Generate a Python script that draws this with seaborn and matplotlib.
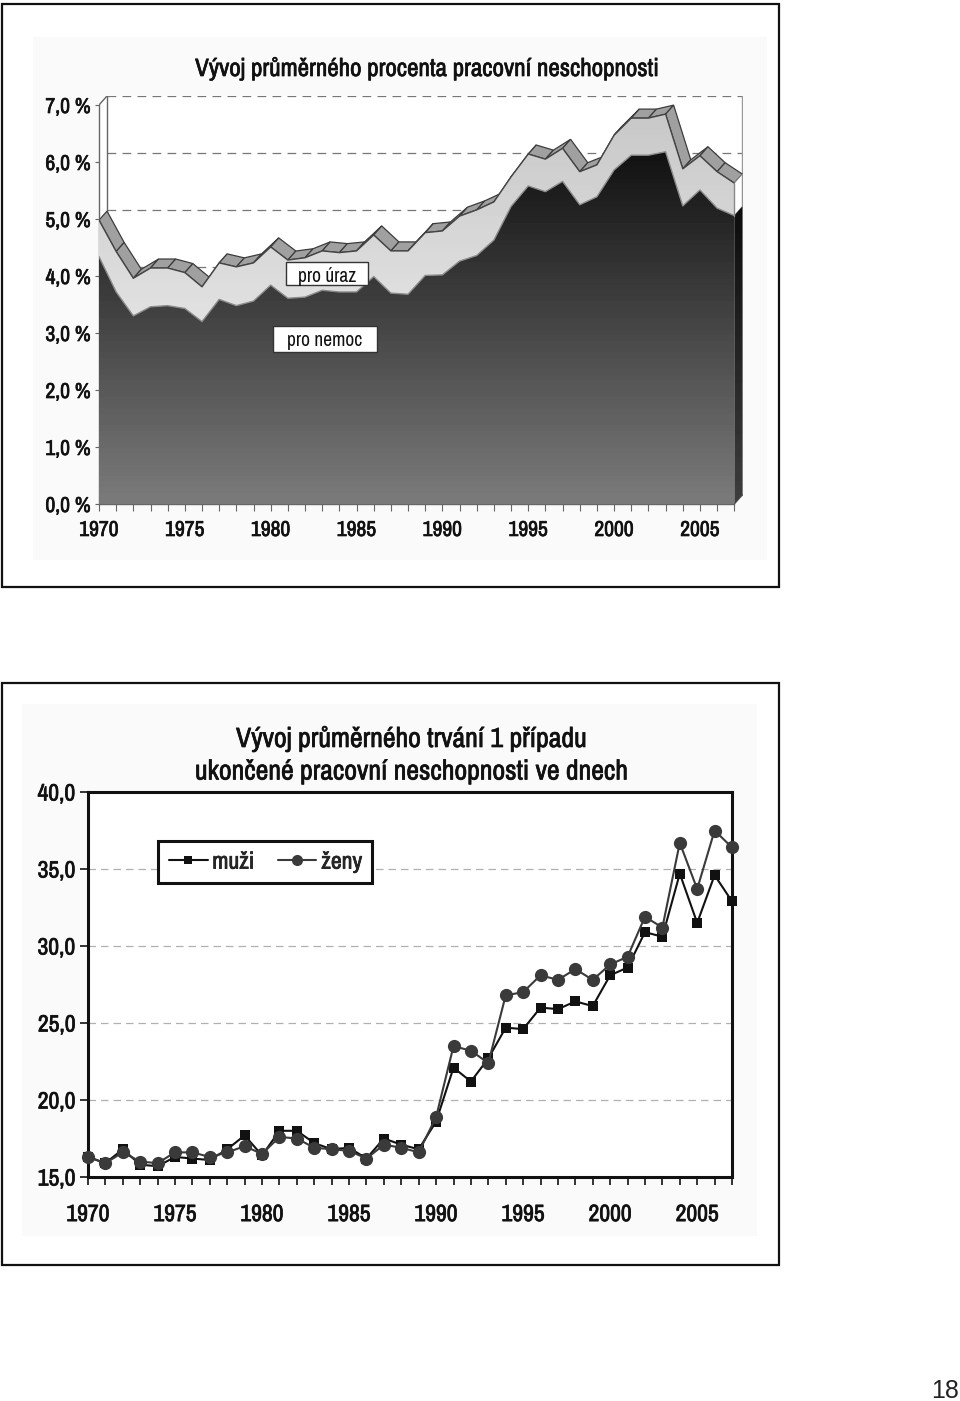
import numpy as np
import pandas as pd
import seaborn as sns
import matplotlib
matplotlib.use('Agg')
import matplotlib.pyplot as plt
import matplotlib.patheffects as pe
from matplotlib.patches import Rectangle, Polygon

# data
years = list(range(1970, 2008))
nemoc = [4.34, 3.72, 3.30, 3.46, 3.48, 3.43, 3.20, 3.59, 3.48, 3.56,
         3.84, 3.61, 3.63, 3.75, 3.72, 3.72, 3.99, 3.70, 3.68, 4.01,
         4.02, 4.26, 4.36, 4.63, 5.22, 5.58, 5.48, 5.66, 5.25, 5.39,
         5.86, 6.12, 6.12, 6.18, 5.23, 5.51, 5.19, 5.06]
uraz = [0.64, 0.71, 0.66, 0.68, 0.66, 0.63, 0.61, 0.64, 0.68, 0.67,
        0.67, 0.67, 0.69, 0.69, 0.69, 0.72, 0.73, 0.74, 0.76, 0.75,
        0.77, 0.79, 0.80, 0.67, 0.52, 0.56, 0.57, 0.58, 0.58, 0.56,
        0.61, 0.65, 0.65, 0.66, 0.65, 0.60, 0.64, 0.57]
muzi = [16.3, 15.9, 16.8, 15.8, 15.7, 16.3, 16.2, 16.1, 16.8, 17.7,
        16.4, 18.0, 18.0, 17.2, 16.8, 16.9, 16.2, 17.5, 17.1, 16.8,
        18.6, 22.1, 21.2, 22.7, 24.7, 24.6, 26.0, 25.9, 26.4, 26.1,
        28.1, 28.6, 30.9, 30.6, 34.7, 31.5, 34.6, 32.9]
zeny = [16.3, 15.9, 16.6, 16.0, 15.9, 16.6, 16.6, 16.3, 16.6, 17.0,
        16.5, 17.6, 17.5, 16.9, 16.8, 16.7, 16.2, 17.1, 16.9, 16.6,
        18.9, 23.5, 23.2, 22.4, 26.8, 27.0, 28.1, 27.8, 28.5, 27.8,
        28.8, 29.3, 31.9, 31.2, 36.7, 33.7, 37.5, 36.4]
label_years = [1970, 1975, 1980, 1985, 1990, 1995, 2000, 2005]
ticks_pct = [0, 1, 2, 3, 4, 5, 6, 7]
ticks_days = [15, 20, 25, 30, 35, 40]

W, H = 960, 1401
sns.set_style('white')
plt.rcParams['font.family'] = ['Archivo Narrow', 'Liberation Sans', 'DejaVu Sans']
# the narrow face only comes in a light weight, thicken it a bit
THICK = [pe.withStroke(linewidth=0.5, foreground='#111111')]

fig = plt.figure(figsize=(W / 100, H / 100), dpi=100)


def px_axes(left, top, right, bottom, zorder=1):
    a = fig.add_axes([left / W, 1 - bottom / H, (right - left) / W, (bottom - top) / H], zorder=zorder)
    a.patch.set_alpha(0)
    return a


# page: frames and pale panels, in pixels
page = px_axes(0, 0, W, H, zorder=0)
page.set_xlim(0, W)
page.set_ylim(H, 0)
page.axis('off')
page.add_patch(Rectangle((2, 4), 777, 583, fc='white', ec='#111111', lw=1.6))
page.add_patch(Rectangle((33, 37), 734, 523, fc='#fafafa', ec='none'))
page.add_patch(Rectangle((2, 683), 777, 582, fc='white', ec='#111111', lw=1.6))
page.add_patch(Rectangle((22, 704), 735, 532, fc='#fafafa', ec='none'))
page.text(945, 1391, '18', fontsize=18, ha='center', va='center', family=['Liberation Sans'], color='#222222')
page.text(427, 68, 'Vývoj průměrného procenta pracovní neschopnosti', fontsize=18, ha='center', va='center',
          color='#111111', path_effects=THICK)
page.text(411, 739, 'Vývoj průměrného trvání 1 případu', fontsize=20, ha='center', va='center',
          color='#111111', path_effects=THICK)
page.text(411, 772, 'ukončené pracovní neschopnosti ve dnech', fontsize=20, ha='center', va='center',
          color='#111111', path_effects=THICK)

# upper chart, stacked area with depth
x = np.array(years, dtype=float)
low = np.array(nemoc)
total = low + np.array(uraz)
DX, DY = 0.466, 0.158
x_end = 2007 + DX

ax1 = px_axes(99, 96, 743, 504, zorder=1)
ax1.add_patch(Polygon([(1970, 0), (1970, 7), (1970 + DX, 7 + DY), (x_end, 7 + DY), (x_end, DY), (2007, 0)],
                      fc='white', ec='none', zorder=0))
for v in ticks_pct[4:]:
    ax1.hlines(v + DY, 1970 + DX, x_end, color='#777777', lw=0.9, ls=(0, (7, 5)), zorder=1)
ax1.plot([1970 + DX, 1970 + DX], [DY, 7 + DY], color='#666666', lw=1, zorder=1)
ax1.plot([1970, 1970 + DX], [7, 7 + DY], color='#666666', lw=1, zorder=1)
ax1.plot([x_end, x_end], [DY, 7 + DY], color='#999999', lw=1, zorder=1)
ax1.plot([2007, x_end], [0, DY], color='#555555', lw=1, zorder=1)

# top ribbon of the stack
for i in range(len(x) - 1):
    ax1.add_patch(Polygon([(x[i], total[i]), (x[i + 1], total[i + 1]),
                           (x[i + 1] + DX, total[i + 1] + DY), (x[i] + DX, total[i] + DY)],
                          fc='#a0a0a0', ec='#3c3c3c', lw=0.9, zorder=2))
# right side
ax1.add_patch(Polygon([(2007, low[-1]), (2007, total[-1]), (x_end, total[-1] + DY), (x_end, low[-1] + DY)],
                      fc='white', ec='#888888', lw=0.7, zorder=2))
side = ax1.fill_between([2007, x_end], [0, DY], [low[-1], low[-1] + DY], color='none', zorder=3)
im = ax1.imshow(np.linspace(0.05, 0.24, 64)[:, None], extent=(2007, x_end, 0, low[-1] + DY), origin='upper',
                aspect='auto', cmap='gray', vmin=0, vmax=1, zorder=3)
im.set_clip_path(side.get_paths()[0], ax1.transData)

# front faces with vertical gradients
light = ax1.fill_between(x, low, total, color='none', zorder=4)
im = ax1.imshow(np.linspace(0.78, 0.97, 64)[:, None], extent=(1970, 2007, 0, 7), origin='upper',
                aspect='auto', cmap='gray', vmin=0, vmax=1, zorder=4)
im.set_clip_path(light.get_paths()[0], ax1.transData)
dark = ax1.fill_between(x, 0, low, color='none', zorder=5)
im = ax1.imshow(np.linspace(0.06, 0.48, 64)[:, None], extent=(1970, 2007, 0, 6.3), origin='upper',
                aspect='auto', cmap='gray', vmin=0, vmax=1, zorder=5)
im.set_clip_path(dark.get_paths()[0], ax1.transData)

sns.lineplot(x=x, y=total, ax=ax1, color='#444444', lw=1, zorder=6)
sns.lineplot(x=x, y=low, ax=ax1, color='#8c8c8c', lw=1, zorder=6)
ax1.plot([2007, 2007], [low[-1], total[-1]], color='#888888', lw=1, zorder=6)

ax1.set_xlim(1970, 1970 + 644 / 17.17)
ax1.set_ylim(0, 408 / 57)
sns.despine(ax=ax1, top=True, right=True)
ax1.spines['left'].set_bounds(0, 7)
ax1.spines['bottom'].set_bounds(1970, 2007)
for s in ['left', 'bottom']:
    ax1.spines[s].set_color('#666666')
    ax1.spines[s].set_linewidth(1)
ax1.set_yticks(ticks_pct)
ax1.set_yticklabels([f'{v},0 %' for v in ticks_pct], fontsize=15.5, color='#111111')
ax1.set_xticks(years)
ax1.set_xticklabels([str(y) if y in label_years else '' for y in years], fontsize=15.5, color='#111111')
ax1.tick_params(axis='y', left=True, length=3, width=0.8, color='#666666', pad=3)
ax1.tick_params(axis='x', bottom=True, length=5, width=0.8, color='#666666', pad=6.5)

# lower chart, two lines
df = pd.DataFrame({'rok': years * 2, 'dny': muzi + zeny, 'pohlaví': ['muži'] * 38 + ['ženy'] * 38})
ax2 = px_axes(88, 792, 732, 1177, zorder=1)
ax2.patch.set_alpha(1)
ax2.patch.set_facecolor('white')
ax2.hlines(ticks_days[1:-1], 1970, 2007, color='#b0b0b0', lw=0.9, ls=(0, (6, 4)), zorder=1)
sns.lineplot(data=df, x='rok', y='dny', hue='pohlaví', style='pohlaví', ax=ax2,
             palette={'muži': '#111111', 'ženy': '#3a3a3a'}, markers={'muži': 's', 'ženy': 'o'},
             dashes=False, lw=1.5, markersize=9.5, markeredgewidth=0, clip_on=False, zorder=4)
ax2.lines[0].set_markersize(6.5)
ax2.set_xlim(1970, 2007)
ax2.set_ylim(15, 40)
ax2.set_xlabel('')
ax2.set_ylabel('')
for s in ax2.spines.values():
    s.set_color('#111111')
    s.set_linewidth(2.2)
ax2.set_yticks(ticks_days)
ax2.set_yticklabels([f'{v},0' for v in ticks_days], fontsize=17, color='#111111')
ax2.set_xticks(years)
ax2.set_xticklabels([str(y) if y in label_years else '' for y in years], fontsize=17, color='#111111')
ax2.tick_params(axis='y', left=True, length=6, width=1.2, color='#111111', pad=3)
ax2.tick_params(axis='x', bottom=True, length=6, width=1.2, color='#111111', pad=13.5)
handles, labels = ax2.get_legend_handles_labels()
leg = ax2.legend(handles, labels, loc='upper left', bbox_to_anchor=(70 / 644, 1 - 49 / 385), ncol=2, frameon=True,
                 fancybox=False, framealpha=1, edgecolor='#111111', borderaxespad=0, handlelength=1.65,
                 columnspacing=1.0, handletextpad=0.2, borderpad=0.45, prop={'size': 17})
leg.get_frame().set_linewidth(2.2)
leg.legend_handles[0].set_markersize(5.5)
leg.legend_handles[1].set_markersize(8)
leg.set_zorder(5)
for t in leg.get_texts():
    t.set_path_effects(THICK)

for a in (ax1, ax2):
    for t in a.get_xticklabels() + a.get_yticklabels():
        t.set_path_effects(THICK)

# overlay labels
top = px_axes(0, 0, W, H, zorder=3)
top.set_xlim(0, W)
top.set_ylim(H, 0)
top.axis('off')
top.add_patch(Rectangle((286, 262), 82, 23, fc='white', ec='#333333', lw=1))
top.text(327, 277, 'pro úraz', fontsize=14, ha='center', va='center', color='#111111')
top.add_patch(Rectangle((273, 326), 104, 26, fc='white', ec='#333333', lw=1))
top.text(325, 340, 'pro nemoc', fontsize=14, ha='center', va='center', color='#111111')

fig.savefig('out.png', dpi=100)
